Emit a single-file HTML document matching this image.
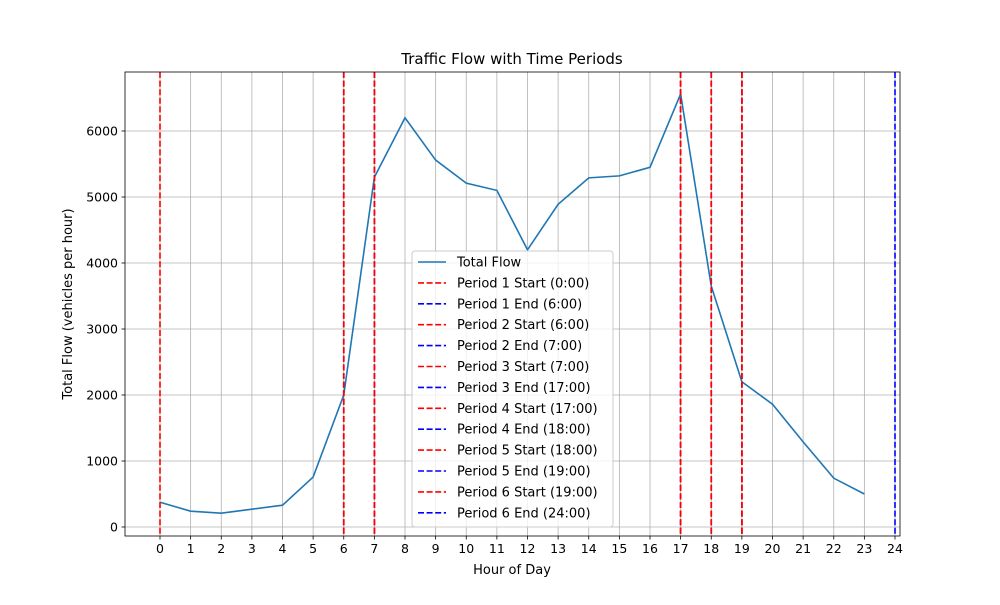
<!DOCTYPE html>
<html><head><meta charset="utf-8"><style>
body{margin:0;background:#fff;font-family:"Liberation Sans","DejaVu Sans",sans-serif}
</style></head><body>
<svg id="chart" width="1000" height="600" xmlns="http://www.w3.org/2000/svg" font-family="DejaVu Sans, Liberation Sans, sans-serif"></svg>
<script>
const hours=[0,1,2,3,4,5,6,7,8,9,10,11,12,13,14,15,16,17,18,19,20,21,22,23];
const flow=[375,240,210,270,330,757,2000,5300,6200,5560,5210,5100,4200,4890,5290,5320,5450,6560,3650,2200,1860,1290,740,500];
const periodStarts=[0,6,7,17,18,19];
const periodEnds=[6,7,17,18,19,24];
const xTicks=[0,1,2,3,4,5,6,7,8,9,10,11,12,13,14,15,16,17,18,19,20,21,22,23,24];
const yTicks=[0,1000,2000,3000,4000,5000,6000];
const L=125,R=900,T=72,B=536;
const x=h=>160+h*(895-160)/24;
const y=v=>527-v*(527-131)/6000;
const svg=document.getElementById('chart');
const NS='http://www.w3.org/2000/svg';
function mk(tag,attrs,parent){const e=document.createElementNS(NS,tag);for(const k in attrs)e.setAttribute(k,attrs[k]);(parent||svg).appendChild(e);return e;}
function txt(s,attrs,name){const e=mk('text',attrs);e.textContent=s;


return e;}
// grid
xTicks.forEach(t=>{const g=mk('line',{x1:x(t),x2:x(t),y1:T,y2:B,stroke:'#b0b0b0','stroke-width':0.8});


const tk=mk('line',{x1:x(t),x2:x(t),y1:B,y2:B+3.5,stroke:'#000','stroke-width':0.8});


txt(String(t),{x:x(t),y:B+17,'text-anchor':'middle','font-size':12.5},'x-tick-label');});
yTicks.forEach(t=>{const g=mk('line',{x1:L,x2:R,y1:y(t),y2:y(t),stroke:'#b0b0b0','stroke-width':0.8});


const tk=mk('line',{x1:L-3.5,x2:L,y1:y(t),y2:y(t),stroke:'#000','stroke-width':0.8});


txt(String(t),{x:L-7,y:y(t)+4.5,'text-anchor':'end','font-size':12.5},'y-tick-label');});
// line
const pl=mk('polyline',{points:hours.map((h,i)=>x(h)+','+y(flow[i])).join(' '),fill:'none',stroke:'#1f77b4','stroke-width':1.6});


// period lines
const legendItems=[['Total Flow','#1f77b4',false]];
periodStarts.forEach((s,i)=>{
 const a=mk('line',{x1:x(s),x2:x(s),y1:T,y2:B,stroke:'red','stroke-width':1.6,'stroke-dasharray':'6,2.6'});
 
 
 const b=mk('line',{x1:x(periodEnds[i]),x2:x(periodEnds[i]),y1:T,y2:B,stroke:'blue','stroke-width':1.6,'stroke-dasharray':'6,2.6'});
 
 
 legendItems.push(['Period '+(i+1)+' Start ('+s+':00)','red',true]);
 legendItems.push(['Period '+(i+1)+' End ('+periodEnds[i]+':00)','blue',true]);
});
// redraw start lines on top for overlap order matching
periodStarts.forEach((s,i)=>{if(i>0){const a=mk('line',{x1:x(s),x2:x(s),y1:T,y2:B,stroke:'red','stroke-width':1.6,'stroke-dasharray':'6,2.6'});
 
 }});
// axes frame
const fr=mk('rect',{x:L,y:T,width:R-L,height:B-T,fill:'none',stroke:'#000','stroke-width':0.8});


txt('Traffic Flow with Time Periods',{x:512,y:64,'text-anchor':'middle','font-size':15},'chart-title');
txt('Hour of Day',{x:512,y:574,'text-anchor':'middle','font-size':13},'x-axis-title');
txt('Total Flow (vehicles per hour)',{x:72,y:304,'text-anchor':'middle','font-size':13,transform:'rotate(-90 72 304)'},'y-axis-title');
// legend
const lg=mk('g',{});


mk('rect',{x:412,y:251,width:201,height:276,rx:3,fill:'#fff','fill-opacity':0.8,stroke:'#ccc'},lg);
legendItems.forEach((it,i)=>{const yy=262+i*20.9;
 const l=mk('line',{x1:418,x2:446,y1:yy,y2:yy,stroke:it[1],'stroke-width':1.6,'stroke-dasharray':it[2]?'6,2.6':'none'},lg);
 
 
 const t=mk('text',{x:457,y:yy+4.5,'font-size':13},lg);t.textContent=it[0];
 
 
});
</script>
</body></html>
